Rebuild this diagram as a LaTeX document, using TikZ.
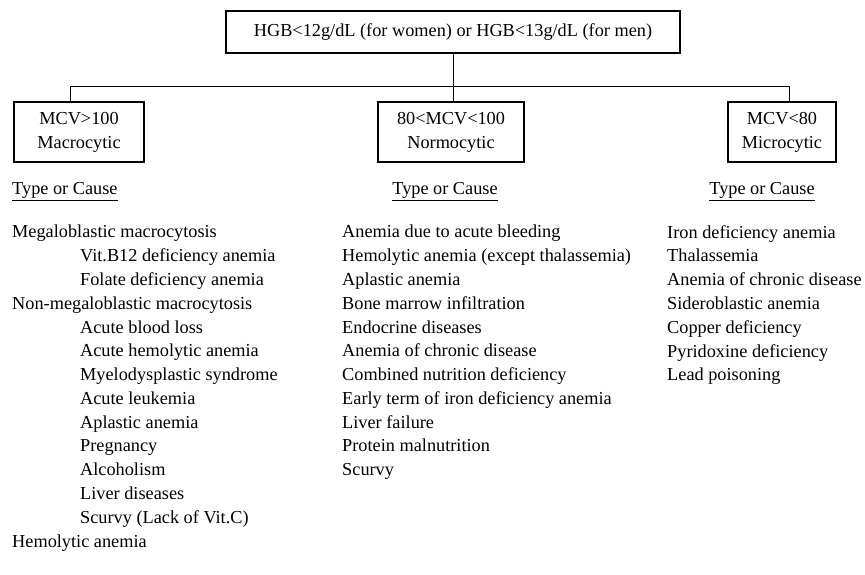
\documentclass[tikz,border=0pt]{standalone}
\usepackage{fontspec}
\setmainfont{Liberation Serif}
\usetikzlibrary{positioning,calc}

\begin{document}
\begin{tikzpicture}[
    x=0.03cm, y=-0.03cm,
    every node/.style={font=\fontsize{15.6}{20.3}\selectfont},
    mcvbox/.style={rectangle, draw=black, line width=1.3pt, align=center,
        inner sep=2pt, minimum height=60*0.03cm},
    causelist/.style={anchor=north west, align=left, inner sep=0pt},
    heading/.style={inner sep=0pt},
]
\useasboundingbox (0,0) rectangle (865,574);

% Hemoglobin threshold
\node[mcvbox, minimum width=454*0.03cm, minimum height=42*0.03cm] (hgb) at (453,32)
    {HGB<12g/dL (for women) or HGB<13g/dL (for men)};

% MCV classes
\node[mcvbox, minimum width=130*0.03cm] (macro) at (79,132) {MCV>100\\Macrocytic};
\node[mcvbox, minimum width=146*0.03cm] (normo) at (451,132) {80<MCV<100\\Normocytic};
\node[mcvbox, minimum width=108*0.03cm] (micro) at (782,132) {MCV<80\\Microcytic};

% Tree lines
\coordinate (jl) at (70,86);
\coordinate (jr) at (789,86);
\draw[thick] (jl) -- (jr);
\draw[thick] (hgb.south) -- (hgb.south |- jl);
\draw[thick] (hgb.south |- jl) -- (hgb.south |- normo.north);
\draw[thick] (jl) -- (jl |- macro.north);
\draw[thick] (jr) -- (jr |- micro.north);

% Headings
\node[heading, anchor=west] (typel) at (12,192) {\underline{Type or Cause}};
\node[heading] (typem) at (445,192) {\underline{Type or Cause}};
\node[heading] (typer) at (762,192) {\underline{Type or Cause}};

% Lists
\node[causelist] (listl) at (12,225) {%
    Megaloblastic macrocytosis\\
    \hspace*{58pt}Vit.B12 deficiency anemia\\
    \hspace*{58pt}Folate deficiency anemia\\
    Non-megaloblastic macrocytosis\\
    \hspace*{58pt}Acute blood loss\\
    \hspace*{58pt}Acute hemolytic anemia\\
    \hspace*{58pt}Myelodysplastic syndrome\\
    \hspace*{58pt}Acute leukemia\\
    \hspace*{58pt}Aplastic anemia\\
    \hspace*{58pt}Pregnancy\\
    \hspace*{58pt}Alcoholism\\
    \hspace*{58pt}Liver diseases\\
    \hspace*{58pt}Scurvy (Lack of Vit.C)\\
    Hemolytic anemia};

\node[causelist] (listm) at (342,225) {%
    Anemia due to acute bleeding\\
    Hemolytic anemia (except thalassemia)\\
    Aplastic anemia\\
    Bone marrow infiltration\\
    Endocrine diseases\\
    Anemia of chronic disease\\
    Combined nutrition deficiency\\
    Early term of iron deficiency anemia\\
    Liver failure\\
    Protein malnutrition\\
    Scurvy};

\node[causelist] (listr) at (667,225) {%
    Iron deficiency anemia\\
    Thalassemia\\
    Anemia of chronic disease\\
    Sideroblastic anemia\\
    Copper deficiency\\
    Pyridoxine deficiency\\
    Lead poisoning};

\end{tikzpicture}
\end{document}
